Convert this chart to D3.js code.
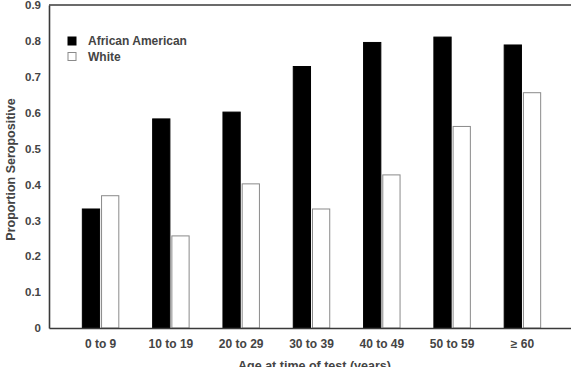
<!DOCTYPE html>
<html>
<head>
<meta charset="utf-8">
<script src="https://cdn.jsdelivr.net/npm/d3@7"></script>
<style>
    body { margin: 0; background: #fff; }
    svg { display: block; font-family: 'Liberation Sans', Arial, sans-serif; font-weight: bold; }
</style>
</head>
<body>
<div id="chart"></div>
<script>
const ageGroups = ['0 to 9', '10 to 19', '20 to 29', '30 to 39', '40 to 49', '50 to 59', '\u2265 60'];
const seriesNames = ['African American', 'White'];
const africanAmerican = [0.333, 0.584, 0.603, 0.730, 0.797, 0.812, 0.790];
const white = [0.370, 0.258, 0.403, 0.333, 0.428, 0.563, 0.657];
const yTicks = [0, 0.1, 0.2, 0.3, 0.4, 0.5, 0.6, 0.7, 0.8, 0.9];

const width = 571;
const height = 367;
const margin = { top: 5, left: 49, bottom: 39 };
const plotRight = 574;
const textColor = '#444';
const axisColor = '#3a3a3a';

const svg = d3
    .select('#chart')
    .append('svg')
    .attr('width', width)
    .attr('height', height);

const x = d3
    .scaleBand()
    .domain(ageGroups)
    .range([margin.left, plotRight])
    .padding(0.467);

const xInner = d3
    .scaleBand()
    .domain(seriesNames)
    .range([0, x.bandwidth()])
    .paddingInner(0.05);

const y = d3
    .scaleLinear()
    .domain([0, 0.9])
    .range([height - margin.bottom, margin.top]);

const colorMap = d3.scaleOrdinal().domain(seriesNames).range(['#000', '#fff']);
const strokeMap = d3.scaleOrdinal().domain(seriesNames).range(['#000', '#8a8a8a']);

const rows = ageGroups.map((g, i) => ({
    group: g,
    values: [
        { name: seriesNames[0], value: africanAmerican[i] },
        { name: seriesNames[1], value: white[i] },
    ],
}));

// bars
svg.append('g')
    .selectAll('g')
    .data(rows)
    .join('g')
    .attr('transform', d => `translate(${x(d.group)},0)`)
    .selectAll('rect')
    .data(d => d.values)
    .join('rect')
    .attr('x', d => xInner(d.name) + 0.5)
    .attr('y', d => y(d.value) + 0.5)
    .attr('width', xInner.bandwidth() - 1)
    .attr('height', d => y(0) - y(d.value) - 0.5)
    .attr('fill', d => colorMap(d.name))
    .attr('stroke', d => strokeMap(d.name))
    .attr('stroke-width', 1);

// y axis
const yAxis = svg
    .append('g')
    .attr('transform', `translate(${margin.left},0)`)
    .call(
        d3.axisLeft(y)
            .tickValues(yTicks)
            .tickSize(0)
            .tickPadding(8)
            .tickFormat(d => (d === 0 ? '0' : d3.format('.1f')(d)))
    );
yAxis.select('.domain').attr('stroke', axisColor).attr('stroke-width', 1.6);
yAxis.selectAll('text')
    .attr('fill', textColor)
    .style('font-size', '11.5px');

// x axis
const xAxis = svg
    .append('g')
    .attr('transform', `translate(0,${y(0)})`)
    .call(d3.axisBottom(x).tickSize(0).tickPadding(11));
xAxis.select('.domain').attr('stroke', axisColor).attr('stroke-width', 1.6);
xAxis.selectAll('text')
    .attr('fill', textColor)
    .style('font-size', '12px');

// top frame line
svg.append('line')
    .attr('x1', margin.left)
    .attr('x2', plotRight)
    .attr('y1', y(0.9))
    .attr('y2', y(0.9))
    .attr('stroke', axisColor)
    .attr('stroke-width', 1.6);

// axis titles
svg.append('text')
    .attr('transform', `translate(15,${(y(0) + y(0.9)) / 2 + 3}) rotate(-90)`)
    .attr('text-anchor', 'middle')
    .attr('fill', textColor)
    .style('font-size', '12.5px')
    .text('Proportion Seropositive');

svg.append('text')
    .attr('x', (margin.left + plotRight) / 2 + 3)
    .attr('y', 370)
    .attr('text-anchor', 'middle')
    .attr('fill', textColor)
    .style('font-size', '12.5px')
    .text('Age at time of test (years)');

// legend
const legend = svg
    .append('g')
    .selectAll('g')
    .data(seriesNames)
    .join('g')
    .attr('transform', (d, i) => `translate(67.5,${36.5 + i * 15.5})`);

legend.append('rect')
    .attr('x', 0.5)
    .attr('y', 0.5)
    .attr('width', 8)
    .attr('height', 8)
    .attr('fill', d => colorMap(d))
    .attr('stroke', d => strokeMap(d));

legend.append('text')
    .attr('x', 20.5)
    .attr('y', 8.6)
    .attr('fill', textColor)
    .style('font-size', '12px')
    .text(d => d);
</script>
</body>
</html>
